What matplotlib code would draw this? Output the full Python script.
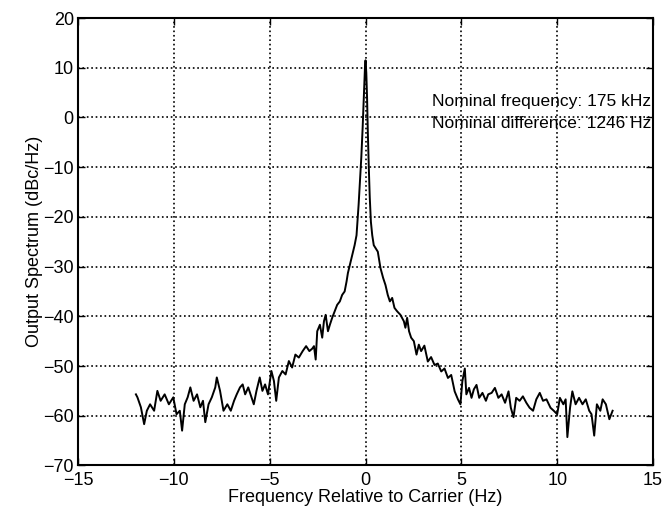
import matplotlib
matplotlib.use("Agg")
import matplotlib.pyplot as plt

# values (Hz, dBc/Hz)
freq_left = [-11.98, -11.9, -11.72, -11.55, -11.41, -11.24, -11.03, -10.86, -10.69, -10.48,
             -10.26, -10.03, -9.86, -9.69, -9.57, -9.43, -9.28, -9.14, -8.97, -8.79,
             -8.62, -8.48, -8.36, -8.19, -8.02, -7.84, -7.76, -7.59, -7.41, -7.21,
             -7.03, -6.86, -6.72, -6.55, -6.41, -6.28, -6.12, -5.95, -5.83, -5.69,
             -5.52, -5.38, -5.24, -5.09, -4.91, -4.78, -4.66, -4.52, -4.34, -4.17,
             -4.0, -3.83, -3.66, -3.48, -3.28, -3.1, -2.93]
spec_left = [-55.7, -56.3, -58.3, -61.7, -59.0, -57.7, -59.0, -55.0, -57.0, -55.7,
             -57.7, -56.3, -59.7, -59.0, -63.0, -57.7, -56.3, -54.3, -57.0, -55.7,
             -58.3, -57.0, -61.3, -57.7, -56.3, -54.3, -52.3, -55.0, -59.0, -57.7,
             -59.0, -57.0, -55.7, -54.3, -53.7, -55.7, -54.3, -56.3, -57.7, -55.0,
             -52.3, -55.0, -53.7, -55.7, -51.0, -53.0, -57.0, -52.3, -51.0, -51.7,
             -49.0, -50.3, -47.7, -48.3, -47.0, -46.0, -47.0]

freq_mid = [-2.78, -2.69, -2.6, -2.52, -2.38, -2.26, -2.17, -2.08, -1.96, -1.86,
            -1.74, -1.61, -1.48, -1.34, -1.22, -1.09, -0.99, -0.92, -0.82, -0.69,
            -0.57, -0.47, -0.42, -0.36, -0.3, -0.22, -0.15, -0.08, -0.03, 0.0,
            0.04, 0.08, 0.12, 0.17, 0.22, 0.28, 0.35, 0.43, 0.64, 0.78,
            0.92, 1.04, 1.16, 1.27, 1.39, 1.51, 1.65, 1.82, 2.0, 2.08,
            2.17, 2.27, 2.38, 2.52, 2.66, 2.78]
spec_mid = [-46.5, -46.0, -48.7, -43.0, -41.7, -44.3, -41.0, -39.7, -43.0, -41.7,
            -40.3, -39.0, -37.7, -37.0, -35.7, -35.0, -33.0, -31.3, -29.7, -27.7,
            -25.7, -23.7, -21.0, -17.5, -13.5, -8.0, -2.0, 5.0, 10.0, 11.5,
            9.0, 4.0, -3.0, -10.0, -16.0, -21.0, -23.7, -25.7, -27.0, -30.3,
            -32.3, -33.7, -35.7, -37.0, -36.3, -38.3, -39.0, -39.7, -41.0, -42.3,
            -40.3, -43.0, -44.3, -45.0, -47.7, -45.7]

freq_right = [2.9, 3.07, 3.25, 3.42, 3.6, 3.77, 3.95, 4.12, 4.3, 4.47,
              4.65, 4.82, 4.95, 5.05, 5.18, 5.26, 5.4, 5.53, 5.65, 5.79,
              5.93, 6.1, 6.28, 6.4, 6.58, 6.75, 6.93, 7.1, 7.28, 7.46,
              7.58, 7.72, 7.86, 8.04, 8.21, 8.39, 8.56, 8.74, 8.91, 9.09,
              9.26, 9.44, 9.65, 9.82, 10.0, 10.14, 10.32, 10.44, 10.53, 10.67,
              10.79, 10.96, 11.14, 11.32, 11.49, 11.67, 11.79, 11.93, 12.07, 12.25,
              12.37, 12.54, 12.72, 12.89]
spec_right = [-47.0, -45.9, -49.1, -48.2, -49.8, -49.5, -51.1, -50.5, -52.4, -51.8,
              -55.1, -56.7, -57.7, -53.1, -50.5, -55.7, -54.4, -56.4, -54.7, -53.8,
              -56.4, -55.4, -57.0, -55.7, -55.4, -54.4, -56.4, -55.7, -57.4, -55.1,
              -58.4, -60.3, -56.4, -57.0, -56.1, -57.4, -58.4, -59.0, -56.7, -55.4,
              -57.0, -56.7, -58.4, -59.0, -59.7, -56.4, -57.7, -56.7, -64.3, -58.4,
              -55.1, -57.7, -56.4, -57.7, -56.7, -59.0, -59.7, -64.0, -57.7, -59.0,
              -56.7, -57.7, -60.7, -59.0]

freq = freq_left + freq_mid + freq_right
spec = spec_left + spec_mid + spec_right

plt.rcParams['font.family'] = ['Liberation Sans', 'DejaVu Sans']

fig = plt.figure(figsize=(6.64, 5.16), dpi=100)
ax = fig.add_axes([0.1175, 0.098, 0.866, 0.867])

ax.plot(freq, spec, color='black', linewidth=1.4)

ax.set_xlim(-15, 15)
ax.set_ylim(-70, 20)
ax.set_xticks(range(-15, 16, 5))
ax.set_yticks(range(-70, 21, 10))
ax.set_xticklabels(['\u221215', '\u221210', '\u22125', '0', '5', '10', '15'])
ax.set_yticklabels(['\u221270', '\u221260', '\u221250', '\u221240', '\u221230',
                    '\u221220', '\u221210', '0', '10', '20'])
ax.tick_params(direction='in', length=5, width=1, labelsize=13,
               top=True, right=True, colors='black')
ax.tick_params(axis='x', pad=5)
ax.tick_params(axis='y', pad=3)
ax.grid(True, linestyle=':', color='black', linewidth=1.2)
for s in ax.spines.values():
    s.set_linewidth(1.5)

ax.set_xlabel('Frequency Relative to Carrier (Hz)', fontsize=13, labelpad=0)
ax.set_ylabel('Output Spectrum (dBc/Hz)', fontsize=13, labelpad=0)

ax.text(14.9, 3.2, 'Nominal frequency: 175 kHz', fontsize=12.5,
        ha='right', va='center')
ax.text(14.9, -1.3, 'Nominal difference: 1246 Hz', fontsize=12.5,
        ha='right', va='center')

fig.savefig('out.png', dpi=100)
